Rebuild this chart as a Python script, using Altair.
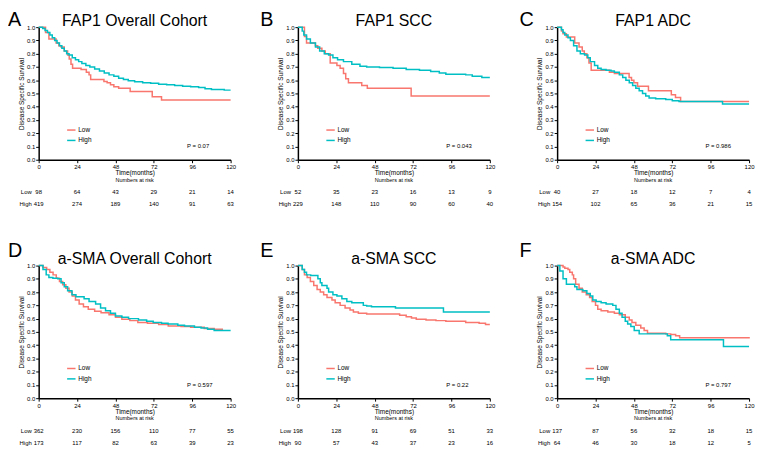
import altair as alt
import pandas as pd

RED = "#F8766D"
TEAL = "#00BFC4"
FONT = "Liberation Sans"
W, H = 194, 134

X_TICKS = [0, 24, 48, 72, 96, 120]
Y_TICKS = [0.0, 0.1, 0.2, 0.3, 0.4, 0.5, 0.6, 0.7, 0.8, 0.9, 1.0]
RISK_TIMES = [0, 24, 48, 72, 96, 120]
GROUPS = ["Low", "High"]

letters = ["A", "B", "C", "D", "E", "F"]
titles = ["FAP1 Overall Cohort", "FAP1 SCC", "FAP1 ADC",
          "a-SMA Overall Cohort", "a-SMA SCC", "a-SMA ADC"]
pvalues = ["P = 0.07", "P = 0.043", "P = 0.986", "P = 0.597", "P = 0.22", "P = 0.797"]

# ---- survival curves (time in months, survival probability) ----
A_low_t = [0, 4.3, 6.4, 10.9, 12.6, 14, 16, 18.1, 19.1, 20.2, 21.2, 26.5, 29.8, 31.5, 32.5, 40.8, 42.8, 44.9, 47, 50, 57.2, 71, 76.8, 120]
A_low_s = [1.0, 0.96, 0.91, 0.88, 0.86, 0.85, 0.82, 0.79, 0.76, 0.72, 0.69, 0.68, 0.66, 0.64, 0.605, 0.59, 0.58, 0.565, 0.55, 0.54, 0.515, 0.475, 0.45, 0.45]
A_high_t = [0, 2.5, 4, 5.5, 7, 8.5, 10, 11.5, 13, 14.5, 16, 17.5, 19, 21, 23, 25, 27, 29.5, 32, 35, 38, 41, 44, 47, 50, 53, 56, 60, 65, 70, 75, 80, 85, 90, 95, 100, 104, 108, 112, 116, 120]
A_high_s = [1.0, 0.99, 0.975, 0.96, 0.94, 0.92, 0.90, 0.88, 0.86, 0.84, 0.82, 0.80, 0.79, 0.77, 0.755, 0.74, 0.725, 0.71, 0.70, 0.685, 0.67, 0.655, 0.64, 0.63, 0.615, 0.605, 0.595, 0.588, 0.58, 0.577, 0.57, 0.565, 0.56, 0.555, 0.55, 0.545, 0.535, 0.53, 0.53, 0.525, 0.525]

B_low_t = [0, 4.1, 5.4, 10.9, 12.4, 15, 17.1, 20.2, 24.4, 26.4, 28.5, 29.9, 31.6, 39.9, 43.4, 70.8, 120]
B_low_s = [1.0, 0.93, 0.88, 0.86, 0.84, 0.82, 0.80, 0.73, 0.71, 0.69, 0.65, 0.61, 0.58, 0.56, 0.54, 0.48, 0.48]
B_high_t = [0, 2.7, 3.7, 5.4, 7.8, 11, 13.6, 16.5, 19.2, 21.9, 24.8, 28.5, 33.7, 38.8, 43, 51, 59.5, 67.7, 76, 83, 88.4, 92.5, 104.9, 109, 115, 120]
B_high_s = [1.0, 0.97, 0.94, 0.91, 0.88, 0.85, 0.82, 0.80, 0.79, 0.77, 0.755, 0.74, 0.72, 0.705, 0.70, 0.695, 0.69, 0.68, 0.675, 0.665, 0.655, 0.645, 0.64, 0.63, 0.62, 0.62]

C_low_t = [0, 2.7, 3.7, 5.8, 11, 13.7, 15.7, 17, 18.6, 19.9, 21.3, 32.7, 35.8, 45, 46.5, 48, 50.3, 57.1, 71.4, 74, 77.2, 120]
C_low_s = [1.0, 0.97, 0.95, 0.925, 0.88, 0.85, 0.82, 0.80, 0.77, 0.73, 0.675, 0.66, 0.65, 0.62, 0.60, 0.58, 0.555, 0.52, 0.49, 0.47, 0.44, 0.44]
C_high_t = [0, 2.7, 3.7, 4.8, 6.8, 8.3, 10.3, 12.4, 14.5, 17.2, 19.2, 20.7, 23.4, 25.4, 27.5, 30.6, 33.7, 35.8, 38.9, 41, 43, 45.1, 47.2, 49.2, 51.3, 53.4, 55.4, 57.5, 61.6, 67.9, 72, 76.2, 103.4, 120]
C_high_s = [1.0, 0.98, 0.96, 0.94, 0.92, 0.90, 0.86, 0.82, 0.80, 0.79, 0.77, 0.74, 0.71, 0.69, 0.68, 0.675, 0.67, 0.66, 0.64, 0.62, 0.60, 0.58, 0.56, 0.54, 0.52, 0.50, 0.48, 0.465, 0.46, 0.455, 0.445, 0.44, 0.42, 0.42]

D_low_t = [0, 2.7, 5, 7, 9, 11, 13, 15, 17, 19, 21, 23, 25.3, 28, 31, 35, 39, 44, 48, 52, 57, 62, 68, 75, 81, 89, 95, 103.5, 109.7, 114.8]
D_low_s = [1.0, 0.985, 0.97, 0.95, 0.93, 0.905, 0.88, 0.855, 0.83, 0.80, 0.77, 0.74, 0.71, 0.69, 0.67, 0.655, 0.645, 0.63, 0.61, 0.595, 0.585, 0.57, 0.565, 0.555, 0.545, 0.54, 0.535, 0.525, 0.52, 0.515]
D_high_t = [0, 2.7, 4.7, 6.4, 8.9, 11.9, 14, 16, 18.1, 20.8, 23.3, 28.4, 31.5, 35.6, 38.7, 41.8, 44.9, 48, 52, 56.2, 62.4, 67.5, 71.6, 76.8, 80.9, 87, 91.2, 97.4, 101.5, 105.6, 109.7, 120]
D_high_s = [1.0, 0.97, 0.93, 0.91, 0.905, 0.90, 0.87, 0.84, 0.81, 0.78, 0.765, 0.75, 0.73, 0.71, 0.68, 0.66, 0.64, 0.62, 0.61, 0.60, 0.59, 0.58, 0.57, 0.565, 0.56, 0.55, 0.545, 0.535, 0.53, 0.52, 0.51, 0.51]

E_low_t = [0, 2.7, 4.1, 5.8, 7.8, 9.9, 12, 14, 16.1, 18.2, 21.3, 23.3, 26.4, 29.5, 32.6, 34.7, 37.8, 43, 63.6, 67.7, 71, 74, 80.1, 86.3, 92.5, 104.9, 113.3, 117.3, 120]
E_low_s = [1.0, 0.97, 0.93, 0.91, 0.88, 0.85, 0.82, 0.80, 0.78, 0.76, 0.74, 0.72, 0.70, 0.68, 0.665, 0.65, 0.64, 0.635, 0.625, 0.615, 0.605, 0.595, 0.59, 0.585, 0.58, 0.57, 0.565, 0.555, 0.555]
E_high_t = [0, 2.7, 4.1, 5.4, 8, 12.5, 14, 15, 18.2, 19.2, 21.9, 24.4, 27.5, 30.6, 33.7, 40.9, 43, 46, 61, 91, 120]
E_high_s = [1.0, 0.97, 0.95, 0.93, 0.925, 0.90, 0.87, 0.85, 0.83, 0.80, 0.78, 0.77, 0.75, 0.73, 0.72, 0.70, 0.695, 0.69, 0.68, 0.65, 0.65]

F_low_t = [0, 3.7, 4.8, 6.8, 7.9, 9.5, 10.3, 11.6, 13.7, 15.7, 18.2, 20.3, 21.9, 24, 25.4, 27.5, 31.7, 35.8, 38.9, 42.6, 45.1, 46.8, 49.2, 52.3, 54.4, 56.5, 67.9, 71, 74.1, 76.6, 120]
F_low_s = [1.0, 0.99, 0.98, 0.97, 0.95, 0.93, 0.90, 0.86, 0.83, 0.80, 0.78, 0.76, 0.73, 0.70, 0.67, 0.66, 0.65, 0.64, 0.63, 0.61, 0.59, 0.57, 0.55, 0.53, 0.51, 0.49, 0.485, 0.48, 0.47, 0.455, 0.45]
F_high_t = [0, 1.7, 3.7, 5.8, 11, 12.4, 16.1, 18.6, 20.7, 22.3, 24.4, 27.5, 30.6, 34.8, 36.8, 38.9, 40.6, 42.6, 44.1, 46.1, 48.2, 51.3, 68.9, 71, 104, 120]
F_high_s = [1.0, 0.96, 0.90, 0.86, 0.84, 0.82, 0.81, 0.79, 0.77, 0.74, 0.73, 0.72, 0.71, 0.70, 0.67, 0.64, 0.61, 0.58, 0.56, 0.54, 0.51, 0.485, 0.47, 0.44, 0.39, 0.39]

# ---- numbers at risk ----
A_risk_low = [98, 64, 43, 29, 21, 14]
A_risk_high = [419, 274, 189, 140, 91, 63]
B_risk_low = [52, 35, 23, 16, 13, 9]
B_risk_high = [229, 148, 110, 90, 60, 40]
C_risk_low = [40, 27, 18, 12, 7, 4]
C_risk_high = [154, 102, 65, 36, 21, 15]
D_risk_low = [362, 230, 156, 110, 77, 55]
D_risk_high = [173, 117, 82, 63, 39, 23]
E_risk_low = [198, 128, 91, 69, 51, 33]
E_risk_high = [90, 57, 43, 37, 23, 16]
F_risk_low = [137, 87, 56, 32, 18, 15]
F_risk_high = [64, 46, 30, 18, 12, 5]

curves = [
    (A_low_t, A_low_s, A_high_t, A_high_s),
    (B_low_t, B_low_s, B_high_t, B_high_s),
    (C_low_t, C_low_s, C_high_t, C_high_s),
    (D_low_t, D_low_s, D_high_t, D_high_s),
    (E_low_t, E_low_s, E_high_t, E_high_s),
    (F_low_t, F_low_s, F_high_t, F_high_s),
]
risks = [
    (A_risk_low, A_risk_high), (B_risk_low, B_risk_high), (C_risk_low, C_risk_high),
    (D_risk_low, D_risk_high), (E_risk_low, E_risk_high), (F_risk_low, F_risk_high),
]

X_SCALE = alt.Scale(domain=[0, 120], nice=False)
Y_SCALE = alt.Scale(domain=[0, 1], nice=False)
X_AXIS = alt.Axis(values=X_TICKS, title="Time(months)", labelFlush=False,
                  labelOverlap=False, labelPadding=1, titlePadding=0,
                  domainColor="black", domainWidth=1.5, tickColor="black",
                  tickSize=3, tickWidth=1, labelFontSize=6, titleFontSize=6.5)
Y_AXIS = alt.Axis(values=Y_TICKS, format=".1f", title="Disease Specific Survival",
                  labelFlush=False, labelOverlap=False, labelPadding=1, titlePadding=2,
                  domainColor="black", domainWidth=1.5, tickColor="black",
                  tickSize=3, tickWidth=1, labelFontSize=6, titleFontSize=6.5)


def panel(i):
    lt, ls, ht, hs = curves[i]
    rl, rh = risks[i]
    df = pd.concat([
        pd.DataFrame({"t": lt, "s": ls, "g": "Low"}),
        pd.DataFrame({"t": ht, "s": hs, "g": "High"}),
    ], ignore_index=True)

    x = alt.X("t:Q", scale=X_SCALE, axis=X_AXIS)
    y = alt.Y("s:Q", scale=Y_SCALE, axis=Y_AXIS)

    lines = alt.Chart(df).mark_line(interpolate="step-after", strokeWidth=1.5).encode(
        x=x, y=y,
        color=alt.Color("g:N", scale=alt.Scale(domain=GROUPS, range=[RED, TEAL]),
                        legend=alt.Legend(title=None, orient="none", legendX=28, legendY=99,
                                          symbolType="stroke", symbolSize=72,
                                          symbolStrokeWidth=1.5, labelFontSize=6.5,
                                          labelFont=FONT, labelColor="black",
                                          rowPadding=1.5, padding=0, labelOffset=2)),
    )

    risk_df = pd.DataFrame({"t": RISK_TIMES, "low": rl, "high": rh})
    low_row = alt.Chart(risk_df).mark_text(fontSize=6, font=FONT, baseline="middle").encode(
        x=x, y=alt.value(H + 33), text=alt.Text("low:Q"))
    high_row = alt.Chart(risk_df).mark_text(fontSize=6, font=FONT, baseline="middle").encode(
        x=x, y=alt.value(H + 45), text=alt.Text("high:Q"))

    one = pd.DataFrame({"k": [0]})
    low_lab = alt.Chart(one).mark_text(text="Low", fontSize=6, font=FONT, align="right",
                                       baseline="middle").encode(
        x=alt.value(-7), y=alt.value(H + 33))
    high_lab = alt.Chart(one).mark_text(text="High", fontSize=6, font=FONT, align="right",
                                        baseline="middle").encode(
        x=alt.value(-7), y=alt.value(H + 45))
    nar = alt.Chart(one).mark_text(text="Numbers at risk", fontSize=5.5, font=FONT,
                                   baseline="middle").encode(
        x=alt.value(W / 2), y=alt.value(H + 20.5))

    ptxt = alt.Chart(one).mark_text(text=pvalues[i], fontSize=6, font=FONT, align="left",
                                    baseline="middle").encode(
        x=alt.value(150), y=alt.value(H * 0.9))

    ttl = alt.Chart(one).mark_text(text=titles[i], fontSize=16, font=FONT,
                                   baseline="alphabetic").encode(
        x=alt.value(W / 2), y=alt.value(-1.5))

    lx = -31 if i % 3 == 0 else -38
    ly = -1 if i < 3 else -9
    let = alt.Chart(one).mark_text(text=letters[i], fontSize=20, font=FONT, align="left",
                                   baseline="alphabetic").encode(
        x=alt.value(lx), y=alt.value(ly))

    return alt.layer(lines, low_row, high_row, ptxt, low_lab, high_lab, nar, ttl, let).properties(
        width=W, height=H)


chart = alt.ConcatChart(
    concat=[panel(i) for i in range(6)],
    columns=3,
    spacing={"row": 107, "column": 68},
    bounds="flush",
).resolve_scale(color="independent").properties(padding=0).configure_view(
    stroke=None
).configure_axis(
    grid=False, labelFont=FONT, titleFont=FONT,
    labelColor="black", titleColor="black", titleFontWeight="normal"
).configure_text(color="black")

chart.save("out.html", embed_options={"renderer": "svg", "actions": False})
